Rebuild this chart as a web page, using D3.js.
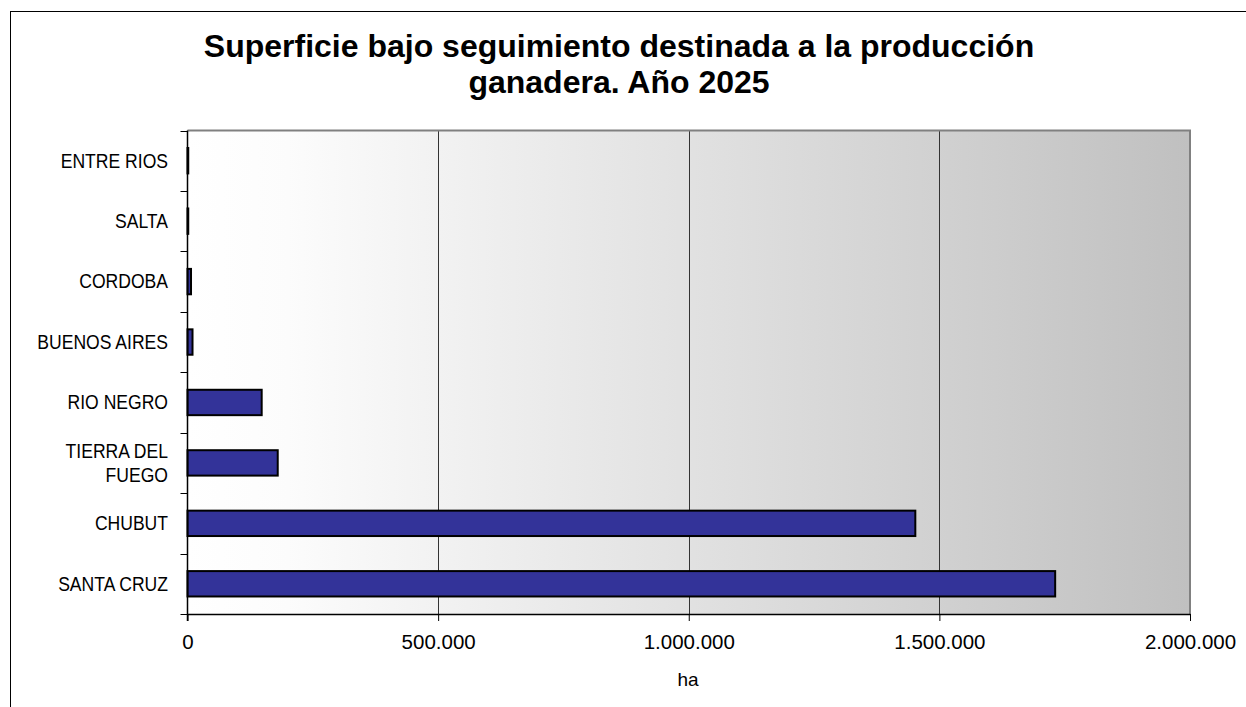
<!DOCTYPE html>
<html>
<head>
<meta charset="utf-8">
<script src="https://cdn.jsdelivr.net/npm/d3@7"></script>
<style>
  html, body { margin: 0; padding: 0; background: #fff; }
  svg { display: block; font-family: "Liberation Sans", Arial, sans-serif; }
</style>
</head>
<body>
<svg id="chart" width="1246" height="707"></svg>
<script>
const categories = ["ENTRE RIOS", "SALTA", "CORDOBA", "BUENOS AIRES", "RIO NEGRO", "TIERRA DEL FUEGO", "CHUBUT", "SANTA CRUZ"];
const values = [1500, 1500, 7000, 10000, 148000, 180000, 1452000, 1731000];
const xTickValues = [0, 500000, 1000000, 1500000, 2000000];
const titleLines = ["Superficie bajo seguimiento destinada a la producción", "ganadera. Año 2025"];
const xAxisTitle = "ha";

const svg = d3.select("#chart");
const plot = { left: 187.5, top: 130.5, right: 1190, bottom: 614 };

// outer frame
svg.append("rect").attr("x", 10.5).attr("y", 11.5).attr("width", 1300).attr("height", 800)
  .attr("fill", "#fff").attr("stroke", "#000").attr("stroke-width", 1);

const defs = svg.append("defs");
const grad = defs.append("linearGradient").attr("id", "bg").attr("x1", "0%").attr("x2", "100%").attr("y1", "0%").attr("y2", "0%");
grad.append("stop").attr("offset", "0%").attr("stop-color", "#ffffff");
grad.append("stop").attr("offset", "10%").attr("stop-color", "#fcfcfc");
grad.append("stop").attr("offset", "100%").attr("stop-color", "#c0c0c0");

const x = d3.scaleLinear().domain([0, 2000000]).range([plot.left, plot.right]);
const y = d3.scaleBand().domain(categories).range([plot.top, plot.bottom]).paddingInner(0.58).paddingOuter(0.29);
const yEdges = d3.scaleBand().domain(categories).range([plot.top, plot.bottom]).padding(0);

// background
svg.append("rect").attr("x", plot.left).attr("y", plot.top)
  .attr("width", plot.right - plot.left).attr("height", plot.bottom - plot.top)
  .attr("fill", "url(#bg)");

// gridlines
svg.append("g").selectAll("line").data(xTickValues.slice(1, -1)).join("line")
  .attr("x1", d => Math.round(x(d)) + 0.5).attr("x2", d => Math.round(x(d)) + 0.5)
  .attr("y1", plot.top).attr("y2", plot.bottom)
  .attr("stroke", "#333").attr("stroke-width", 1);

// top & right border (grey)
svg.append("path")
  .attr("d", `M${plot.left},${plot.top} H${plot.right} V${plot.bottom}`)
  .attr("fill", "none").attr("stroke", "#808080").attr("stroke-width", 2);

// bars
svg.append("g").selectAll("rect").data(categories).join("rect")
  .attr("x", x(0))
  .attr("y", d => y(d))
  .attr("width", (d, i) => x(values[i]) - x(0))
  .attr("height", y.bandwidth())
  .attr("fill", "#333399")
  .attr("stroke", "#000").attr("stroke-width", 2);

// x axis
const xAxis = d3.axisBottom(x).tickValues(xTickValues).tickSizeInner(7).tickSizeOuter(0)
  .tickFormat(d => d3.format(",")(d).replace(/,/g, "."));
const gx = svg.append("g").attr("transform", `translate(0,${plot.bottom})`).call(xAxis);
gx.select(".domain").attr("stroke", "#000").attr("stroke-width", 1.5);
gx.selectAll(".tick line").attr("stroke", "#000");
gx.selectAll(".tick text").attr("font-size", 20.5).attr("fill", "#000").attr("dy", "1.2em")
  .attr("font-family", "Liberation Sans, Arial, sans-serif");

// y axis line & ticks at band edges
svg.append("line").attr("x1", plot.left).attr("x2", plot.left).attr("y1", plot.top).attr("y2", plot.bottom + 7)
  .attr("stroke", "#000").attr("stroke-width", 1.5);
const edges = categories.map(c => yEdges(c)).concat([plot.bottom]);
svg.append("g").selectAll("line").data(edges).join("line")
  .attr("x1", plot.left - 7).attr("x2", plot.left)
  .attr("y1", d => Math.round(d) + 0.5).attr("y2", d => Math.round(d) + 0.5)
  .attr("stroke", "#000").attr("stroke-width", 1);

// category labels
const labelLines = { "TIERRA DEL FUEGO": ["TIERRA DEL", "FUEGO"] };
const gl = svg.append("g").attr("font-size", 19.5).attr("fill", "#000").attr("text-anchor", "end");
categories.forEach(c => {
  const cy = yEdges(c) + yEdges.bandwidth() / 2;
  const lines = labelLines[c] || [c];
  const t = gl.append("text").attr("x", 168).attr("y", cy)
    .attr("transform", `translate(168,0) scale(0.9,1) translate(-168,0)`);
  lines.forEach((ln, i) => {
    t.append("tspan").attr("x", 168)
      .attr("dy", i === 0 ? `${0.35 - (lines.length - 1) * 0.62}em` : "1.24em")
      .text(ln);
  });
});

// title
const gt = svg.append("g").attr("font-size", 32).attr("font-weight", "bold").attr("text-anchor", "middle").attr("fill", "#000");
titleLines.forEach((ln, i) => {
  gt.append("text").attr("x", 619).attr("y", 57 + i * 36).text(ln);
});

// x axis title
svg.append("text").attr("x", 688).attr("y", 686).attr("text-anchor", "middle")
  .attr("font-size", 19).attr("fill", "#000").text(xAxisTitle);
</script>
</body>
</html>
